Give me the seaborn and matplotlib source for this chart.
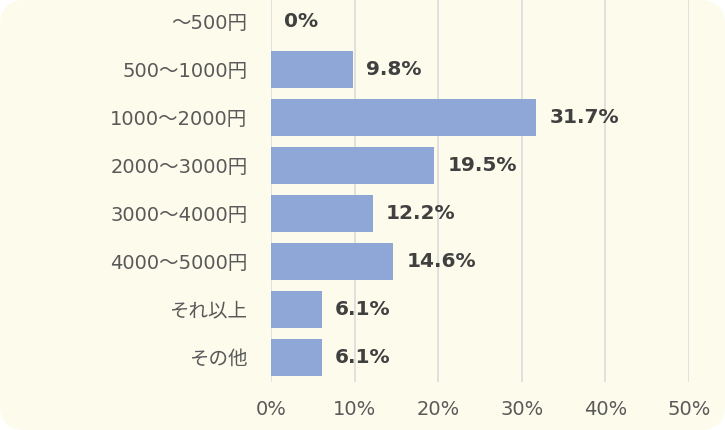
import matplotlib
matplotlib.use("Agg")
import matplotlib.pyplot as plt
from matplotlib.patches import FancyBboxPatch
import seaborn as sns
import pandas as pd

# --- Data ---
categories = ["～500円", "500～1000円", "1000～2000円", "2000～3000円",
              "3000～4000円", "4000～5000円", "それ以上", "その他"]
values = [0, 9.8, 31.7, 19.5, 12.2, 14.6, 6.1, 6.1]
x_ticks = [0, 10, 20, 30, 40, 50]

df = pd.DataFrame({"category": categories, "value": values})

sns.set_theme(style="white")
plt.rcParams['font.family'] = ['DejaVu Sans', 'Noto Sans CJK JP']

bg = "#FDFBEC"
bar_color = "#8EA7D6"

fig = plt.figure(figsize=(7.25, 4.3), dpi=100)
fig.patch.set_facecolor("white")

# rounded cream background
fig.patches.append(FancyBboxPatch(
    (0.0, 0.0), 1.0, 1.0,
    boxstyle="round,pad=0,rounding_size=0.035",
    transform=fig.transFigure, facecolor=bg, edgecolor="none", zorder=-10,
    mutation_aspect=725 / 430))

ax = fig.add_axes([271 / 725, 1 - 382 / 430, 418 / 725, 382 / 430])
ax.set_facecolor("none")
ax.set_zorder(1)

sns.barplot(data=df, x="value", y="category", color=bar_color,
            width=0.77, saturation=1, linewidth=0, ax=ax, zorder=2)

ax.bar_label(ax.containers[0], labels=[f"{v:g}%" for v in values],
             padding=9.5, fontsize=14.5, fontweight="bold", color="#404040")

ax.set_xlim(0, 50)
ax.set_ylim(7.52, -0.44)
ax.set_xticks(x_ticks)
ax.set_xticklabels([f"{t}%" for t in x_ticks])
ax.grid(axis="x", color="#DEDEDE", linewidth=1.3, zorder=0)
ax.set_axisbelow(True)
for s in ax.spines.values():
    s.set_visible(False)
ax.tick_params(axis="y", length=0, pad=17, labelsize=14, labelcolor="#595959")
ax.tick_params(axis="x", length=0, pad=13, labelsize=14, labelcolor="#595959")
ax.set_xlabel("")
ax.set_ylabel("")

fig.savefig("out.png", dpi=100, facecolor=fig.get_facecolor())
